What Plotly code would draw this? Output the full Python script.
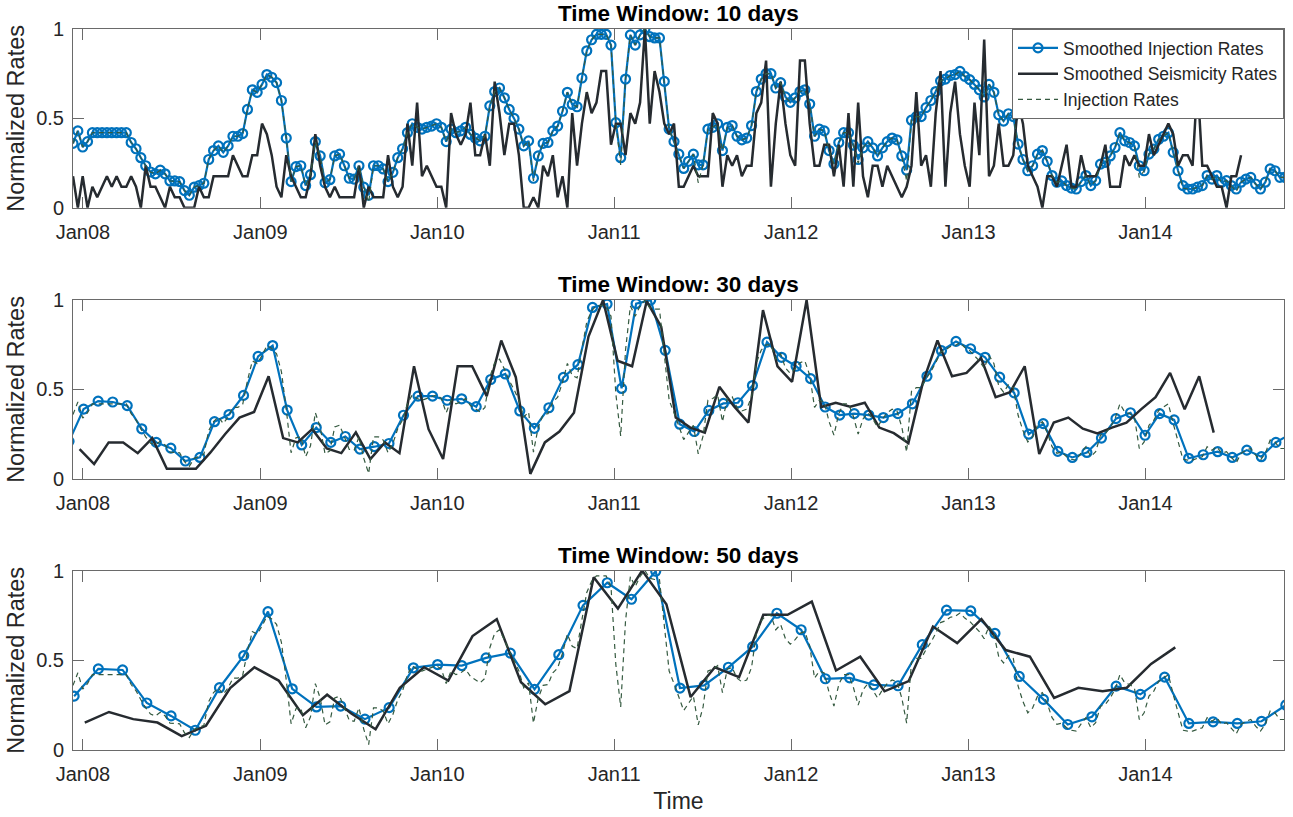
import plotly.graph_objects as go
import pandas as pd

# ---------------- data ----------------
tick_dates = ["2008-01-01", "2009-01-01", "2010-01-01", "2011-01-01",
              "2012-01-01", "2013-01-01", "2014-01-01"]
tick_text = ["Jan08", "Jan09", "Jan10", "Jan11", "Jan12", "Jan13", "Jan14"]
titles = ["Time Window: 10 days", "Time Window: 30 days", "Time Window: 50 days"]

# 10-day window: smoothed injection (normalized)
inj_10 = [
    0.36, 0.43, 0.34, 0.37, 0.42, 0.42, 0.42, 0.42, 0.42, 0.42,
    0.42, 0.42, 0.365, 0.33, 0.28, 0.235, 0.20, 0.19, 0.21, 0.19,
    0.15, 0.15, 0.146, 0.096, 0.07, 0.115, 0.124, 0.137, 0.27, 0.32,
    0.346, 0.31, 0.346, 0.40, 0.40, 0.415, 0.55, 0.66, 0.646, 0.69,
    0.745, 0.73, 0.70, 0.60, 0.39, 0.146, 0.23, 0.235, 0.124, 0.185,
    0.37, 0.29, 0.14, 0.157, 0.29, 0.30, 0.235, 0.165, 0.16, 0.235,
    0.115, 0.07, 0.235, 0.235, 0.217, 0.146, 0.198, 0.28, 0.33, 0.42,
    0.47, 0.45, 0.44, 0.45, 0.457, 0.47, 0.45, 0.37, 0.44, 0.42,
    0.43, 0.45, 0.41, 0.39, 0.374, 0.40, 0.57, 0.65, 0.67, 0.615,
    0.55, 0.50, 0.44, 0.346, 0.374, 0.165, 0.29, 0.36, 0.365, 0.43,
    0.457, 0.54, 0.646, 0.578, 0.565, 0.726, 0.878, 0.94, 0.97, 0.97,
    0.97, 0.91, 0.476, 0.28, 0.72, 0.967, 0.91, 0.967, 1.0, 0.957,
    0.95, 0.95, 0.707, 0.44, 0.37, 0.30, 0.22, 0.26, 0.30, 0.24,
    0.24, 0.44, 0.45, 0.47, 0.32, 0.45, 0.46, 0.40, 0.38, 0.39,
    0.46, 0.65, 0.72, 0.75, 0.75, 0.67, 0.70, 0.62, 0.59, 0.615,
    0.65, 0.66, 0.58, 0.40, 0.44, 0.43, 0.32, 0.245, 0.365, 0.42,
    0.42, 0.35, 0.27, 0.335, 0.37, 0.335, 0.29, 0.335, 0.37, 0.39,
    0.38, 0.29, 0.21, 0.49, 0.51, 0.51, 0.56, 0.60, 0.65, 0.71,
    0.72, 0.74, 0.745, 0.763, 0.735, 0.717, 0.69, 0.66, 0.62, 0.69,
    0.646, 0.52, 0.485, 0.526, 0.51, 0.356, 0.27, 0.207, 0.235, 0.30,
    0.32, 0.26, 0.18, 0.143, 0.15, 0.124, 0.11, 0.105, 0.146, 0.18,
    0.124, 0.152, 0.244, 0.254, 0.29, 0.337, 0.42, 0.374, 0.365, 0.346,
    0.235, 0.207, 0.30, 0.328, 0.383, 0.40, 0.42, 0.31, 0.207, 0.124,
    0.105, 0.105, 0.115, 0.124, 0.18, 0.16, 0.18, 0.143, 0.152, 0.124,
    0.105, 0.143, 0.16, 0.17, 0.133, 0.105, 0.143, 0.217, 0.207, 0.17,
    0.17,
]

# raw injection rates (10-day samples, normalized)
inj_raw = [
    0.36, 0.43, 0.34, 0.37, 0.42, 0.42, 0.42, 0.42, 0.42, 0.42,
    0.42, 0.42, 0.365, 0.33, 0.28, 0.235, 0.20, 0.19, 0.21, 0.19,
    0.15, 0.15, 0.146, 0.096, 0.07, 0.115, 0.124, 0.137, 0.27, 0.32,
    0.346, 0.31, 0.346, 0.40, 0.40, 0.415, 0.55, 0.66, 0.646, 0.69,
    0.745, 0.73, 0.70, 0.60, 0.39, 0.146, 0.23, 0.235, 0.124, 0.185,
    0.37, 0.29, 0.14, 0.157, 0.29, 0.30, 0.235, 0.165, 0.16, 0.235,
    0.115, 0.03, 0.235, 0.235, 0.217, 0.146, 0.198, 0.28, 0.33, 0.42,
    0.47, 0.45, 0.44, 0.45, 0.457, 0.47, 0.45, 0.37, 0.44, 0.42,
    0.43, 0.45, 0.41, 0.39, 0.374, 0.40, 0.57, 0.65, 0.67, 0.615,
    0.55, 0.50, 0.44, 0.346, 0.374, 0.15, 0.29, 0.36, 0.365, 0.43,
    0.457, 0.54, 0.646, 0.578, 0.565, 0.726, 0.878, 0.94, 0.97, 0.97,
    0.97, 0.91, 0.476, 0.24, 0.72, 0.967, 0.91, 0.967, 1.0, 0.957,
    0.95, 0.95, 0.707, 0.44, 0.37, 0.30, 0.22, 0.26, 0.30, 0.14,
    0.24, 0.44, 0.45, 0.47, 0.32, 0.45, 0.46, 0.40, 0.38, 0.39,
    0.46, 0.65, 0.72, 0.75, 0.75, 0.67, 0.70, 0.62, 0.59, 0.615,
    0.65, 0.66, 0.58, 0.40, 0.44, 0.43, 0.32, 0.245, 0.365, 0.42,
    0.42, 0.35, 0.25, 0.335, 0.37, 0.335, 0.29, 0.335, 0.37, 0.39,
    0.38, 0.29, 0.15, 0.49, 0.51, 0.51, 0.56, 0.60, 0.65, 0.71,
    0.72, 0.74, 0.745, 0.763, 0.735, 0.717, 0.69, 0.66, 0.62, 0.69,
    0.646, 0.52, 0.485, 0.526, 0.51, 0.356, 0.27, 0.207, 0.235, 0.30,
    0.32, 0.26, 0.18, 0.143, 0.15, 0.124, 0.11, 0.105, 0.146, 0.18,
    0.124, 0.152, 0.244, 0.254, 0.29, 0.337, 0.42, 0.374, 0.365, 0.346,
    0.17, 0.207, 0.30, 0.328, 0.383, 0.40, 0.42, 0.31, 0.207, 0.11,
    0.105, 0.105, 0.115, 0.124, 0.18, 0.16, 0.18, 0.143, 0.152, 0.124,
    0.09, 0.143, 0.16, 0.17, 0.133, 0.105, 0.143, 0.217, 0.207, 0.17,
    0.17,
]

# 10-day window: smoothed seismicity (event counts, normalized by max)
seis_10_counts = [
    3, 0, 3, 0, 2, 1, 2, 3, 2, 3, 2, 2, 3, 2, 0, 4, 2, 2, 1, 0,
    2, 1, 1, 0, 0, 0, 2, 1, 1, 3, 3, 3, 3, 5, 4, 3, 3, 5, 5, 8,
    7, 5, 2, 1, 5, 3, 2, 1, 1, 3, 7, 4, 2, 1, 2, 1, 1, 1, 1, 4,
    0, 2, 1, 1, 1, 5, 2, 1, 2, 8, 4, 10, 3, 4, 3, 2, 2, 0, 9, 7,
    6, 7, 10, 5, 5, 7, 4, 12, 9, 5, 8, 8, 5, 0, 0, 1, 0, 4, 3, 5,
    1, 3, 0, 9, 4, 8, 11, 9, 10, 13, 13, 6, 8, 8, 5, 9, 8, 10, 17, 8,
    13, 11, 8, 7, 8, 2, 2, 3, 4, 3, 3, 3, 9, 8, 2, 5, 4, 5, 3, 4,
    4, 9, 10, 14, 2, 8, 12, 8, 5, 4, 14, 14, 8, 4, 4, 6, 6, 3, 6, 2,
    9, 2, 10, 3, 1, 4, 4, 2, 4, 3, 2, 1, 2, 4, 11, 4, 5, 2, 9, 13,
    2, 9, 12, 7, 4, 2, 10, 5, 16, 3, 4, 8, 4, 4, 5, 10, 8, 4, 3, 2,
    0, 3, 3, 2, 4, 6, 2, 2, 5, 3, 3, 3, 4, 6, 2, 2, 2, 5, 4, 5,
    4, 4, 7, 5, 6, 7, 8, 7, 4, 5, 5, 4, 12, 4, 4, 3, 2, 2, 0, 3,
    3, 5,
]

# 30-day window
inj_30 = [
    0.21, 0.39, 0.435, 0.43, 0.41, 0.28, 0.204, 0.172, 0.10, 0.12,
    0.32, 0.36, 0.467, 0.685, 0.746, 0.385, 0.19, 0.287, 0.204, 0.237,
    0.167, 0.18, 0.198, 0.356, 0.463, 0.463, 0.44, 0.448, 0.404, 0.556,
    0.587, 0.38, 0.283, 0.398, 0.568, 0.639, 0.959, 0.978, 0.506, 0.98,
    1.0, 0.719, 0.306, 0.265, 0.383, 0.422, 0.426, 0.522, 0.765, 0.68,
    0.63, 0.561, 0.402, 0.357, 0.365, 0.357, 0.343, 0.365, 0.42, 0.574,
    0.717, 0.769, 0.728, 0.68, 0.569, 0.481, 0.25, 0.309, 0.154, 0.12,
    0.148, 0.228, 0.337, 0.37, 0.244, 0.365, 0.33, 0.115, 0.135, 0.152,
    0.12, 0.161, 0.124, 0.204, 0.25,
]
seis_30 = [
    0.167, 0.083, 0.204, 0.204, 0.144, 0.228, 0.056, 0.056, 0.056, 0.148,
    0.25, 0.343, 0.374, 0.574, 0.228, 0.204, 0.278, 0.17, 0.144, 0.26,
    0.111, 0.204, 0.144, 0.63, 0.278, 0.111, 0.63, 0.63, 0.463, 0.774,
    0.569, 0.028, 0.204, 0.265, 0.37, 0.796, 1.0, 0.661, 0.63, 0.994,
    0.852, 0.343, 0.287, 0.259, 0.515, 0.407, 0.315, 0.944, 0.63, 0.543,
    1.0, 0.402, 0.426, 0.404, 0.426, 0.287, 0.256, 0.2, 0.54, 0.774,
    0.574, 0.593, 0.676, 0.457, 0.485, 0.63, 0.139, 0.315, 0.343, 0.281,
    0.254, 0.287, 0.315, 0.389, 0.457, 0.593, 0.389, 0.574, 0.259,
]

# 50-day window
inj_50 = [
    0.30, 0.452, 0.446, 0.262, 0.19, 0.11, 0.347, 0.526, 0.771, 0.341,
    0.24, 0.245, 0.172, 0.236, 0.458, 0.476, 0.47, 0.513, 0.54, 0.338,
    0.531, 0.806, 0.932, 0.84, 0.996, 0.345, 0.36, 0.461, 0.576, 0.762,
    0.67, 0.397, 0.402, 0.363, 0.358, 0.587, 0.779, 0.775, 0.65, 0.41,
    0.282, 0.142, 0.185, 0.356, 0.31, 0.406, 0.148, 0.157, 0.148, 0.16,
    0.25,
]
seis_50 = [
    0.153, 0.212, 0.172, 0.153, 0.077, 0.135, 0.345, 0.461, 0.387, 0.194,
    0.308, 0.203, 0.116, 0.347, 0.461, 0.387, 0.635, 0.729, 0.378, 0.255,
    0.328, 0.963, 0.788, 1.0, 0.812, 0.295, 0.461, 0.406, 0.753, 0.753,
    0.827, 0.443, 0.52, 0.327, 0.384, 0.688, 0.596, 0.729, 0.557, 0.52,
    0.29, 0.347, 0.327, 0.347, 0.48, 0.572,
]

# ---------------- time grids ----------------
t_inj10 = pd.date_range("2007-12-11 10:00", periods=len(inj_10), freq="10D")
t_raw = pd.date_range("2007-12-11 10:00", periods=len(inj_raw), freq="10D")
t_seis10 = pd.date_range("2007-12-11 10:00", periods=len(seis_10_counts), freq="10D")
mx = max(seis_10_counts)
seis_10 = [c / mx for c in seis_10_counts]
t_inj30 = pd.date_range("2007-12-03 07:00", periods=len(inj_30), freq="30D")
t_seis30 = pd.date_range("2007-12-25 00:00", periods=len(seis_30), freq="30D")
t_inj50 = pd.date_range("2007-12-13 17:00", periods=len(inj_50), freq="50D")
t_seis50 = pd.date_range("2008-01-04 17:00", periods=len(seis_50), freq="50D")

BLUE = "#0072BD"
DARK = "#262b30"
GREEN = "#355a40"
AXC = "#6a6a6a"
TXT = "#262626"
FONT = "Liberation Sans, Arial, Helvetica, sans-serif"

panels = [
    (t_inj10, inj_10, t_seis10, seis_10),
    (t_inj30, inj_30, t_seis30, seis_30),
    (t_inj50, inj_50, t_seis50, seis_50),
]

fig = go.Figure()
for p, (ti, yi, ts, ys) in enumerate(panels):
    xa = "x" if p == 0 else f"x{p+1}"
    ya = "y" if p == 0 else f"y{p+1}"
    show = p == 0
    fig.add_trace(go.Scatter(
        x=ti, y=yi, xaxis=xa, yaxis=ya, mode="lines+markers",
        name="Smoothed Injection Rates", showlegend=show,
        line=dict(color=BLUE, width=2.2),
        marker=dict(symbol="circle-open", size=9, color=BLUE,
                    line=dict(width=2.2, color=BLUE)),
    ))
    fig.add_trace(go.Scatter(
        x=ts, y=ys, xaxis=xa, yaxis=ya, mode="lines",
        name="Smoothed Seismicity Rates", showlegend=show,
        line=dict(color=DARK, width=2.5),
    ))
    fig.add_trace(go.Scatter(
        x=t_raw, y=inj_raw, xaxis=xa, yaxis=ya, mode="lines",
        name="Injection Rates", showlegend=show,
        line=dict(color=GREEN, width=1.2, dash="5px,4px"),
    ))

W, H = 1293, 817
ml, mr, mt, mb = 73, 8, 29, 62
ph = H - mt - mb
tops = [29, 302, 574.3]
bots = [209, 482, 755]
domains = [[1 - (b - mt) / ph, 1 - (t - mt) / ph] for t, b in zip(tops, bots)]
domains[0][1] = 1.0
domains[2][0] = 0.0

xrange = ["2007-12-11 10:00", "2014-10-14 00:00"]
layout = dict(
    width=W, height=H,
    margin=dict(l=ml, r=mr, t=mt, b=mb),
    paper_bgcolor="white", plot_bgcolor="white",
    font=dict(family=FONT, color=TXT),
    legend=dict(x=1, y=1, xanchor="right", yanchor="top",
                bgcolor="white", bordercolor=AXC, borderwidth=1,
                font=dict(size=17.5, color=TXT), tracegroupgap=0,
                itemwidth=40),
)
for p in range(3):
    sx = "" if p == 0 else str(p + 1)
    layout[f"xaxis{sx}"] = dict(
        type="date", range=xrange, anchor=f"y{sx}", domain=[0, 1],
        tickvals=tick_dates, ticktext=tick_text,
        ticks="inside", ticklen=11, tickwidth=1, tickcolor=AXC,
        showline=True, linecolor=AXC, linewidth=1, mirror="ticks",
        showgrid=False, zeroline=False,
        tickfont=dict(size=20, color=TXT, family=FONT),
        ticklabelstandoff=6,
    )
    layout[f"yaxis{sx}"] = dict(
        range=[0, 1], anchor=f"x{sx}", domain=domains[p],
        tickvals=[0, 0.5, 1], ticktext=["0", "0.5", "1"],
        ticks="inside", ticklen=11, tickwidth=1, tickcolor=AXC,
        showline=True, linecolor=AXC, linewidth=1, mirror="ticks",
        showgrid=False, zeroline=False,
        tickfont=dict(size=20, color=TXT, family=FONT),
        ticklabelstandoff=4,
        title=dict(text="Normalized Rates", font=dict(size=23.5, color=TXT, family=FONT),
                   standoff=4),
    )
layout["xaxis3"]["title"] = dict(text="Time", font=dict(size=23, color=TXT, family=FONT),
                                 standoff=8)

anns = []
for p in range(3):
    ymid = 1 - ((tops[p] - 15.5) - mt) / ph
    anns.append(dict(text=f"<b>{titles[p]}</b>", xref="paper", yref="paper",
                     x=0.5, y=ymid, xanchor="center", yanchor="middle",
                     showarrow=False, font=dict(size=22.5, color="black", family=FONT)))
layout["annotations"] = anns
fig.update_layout(**layout)

fig.write_html("out.html")
